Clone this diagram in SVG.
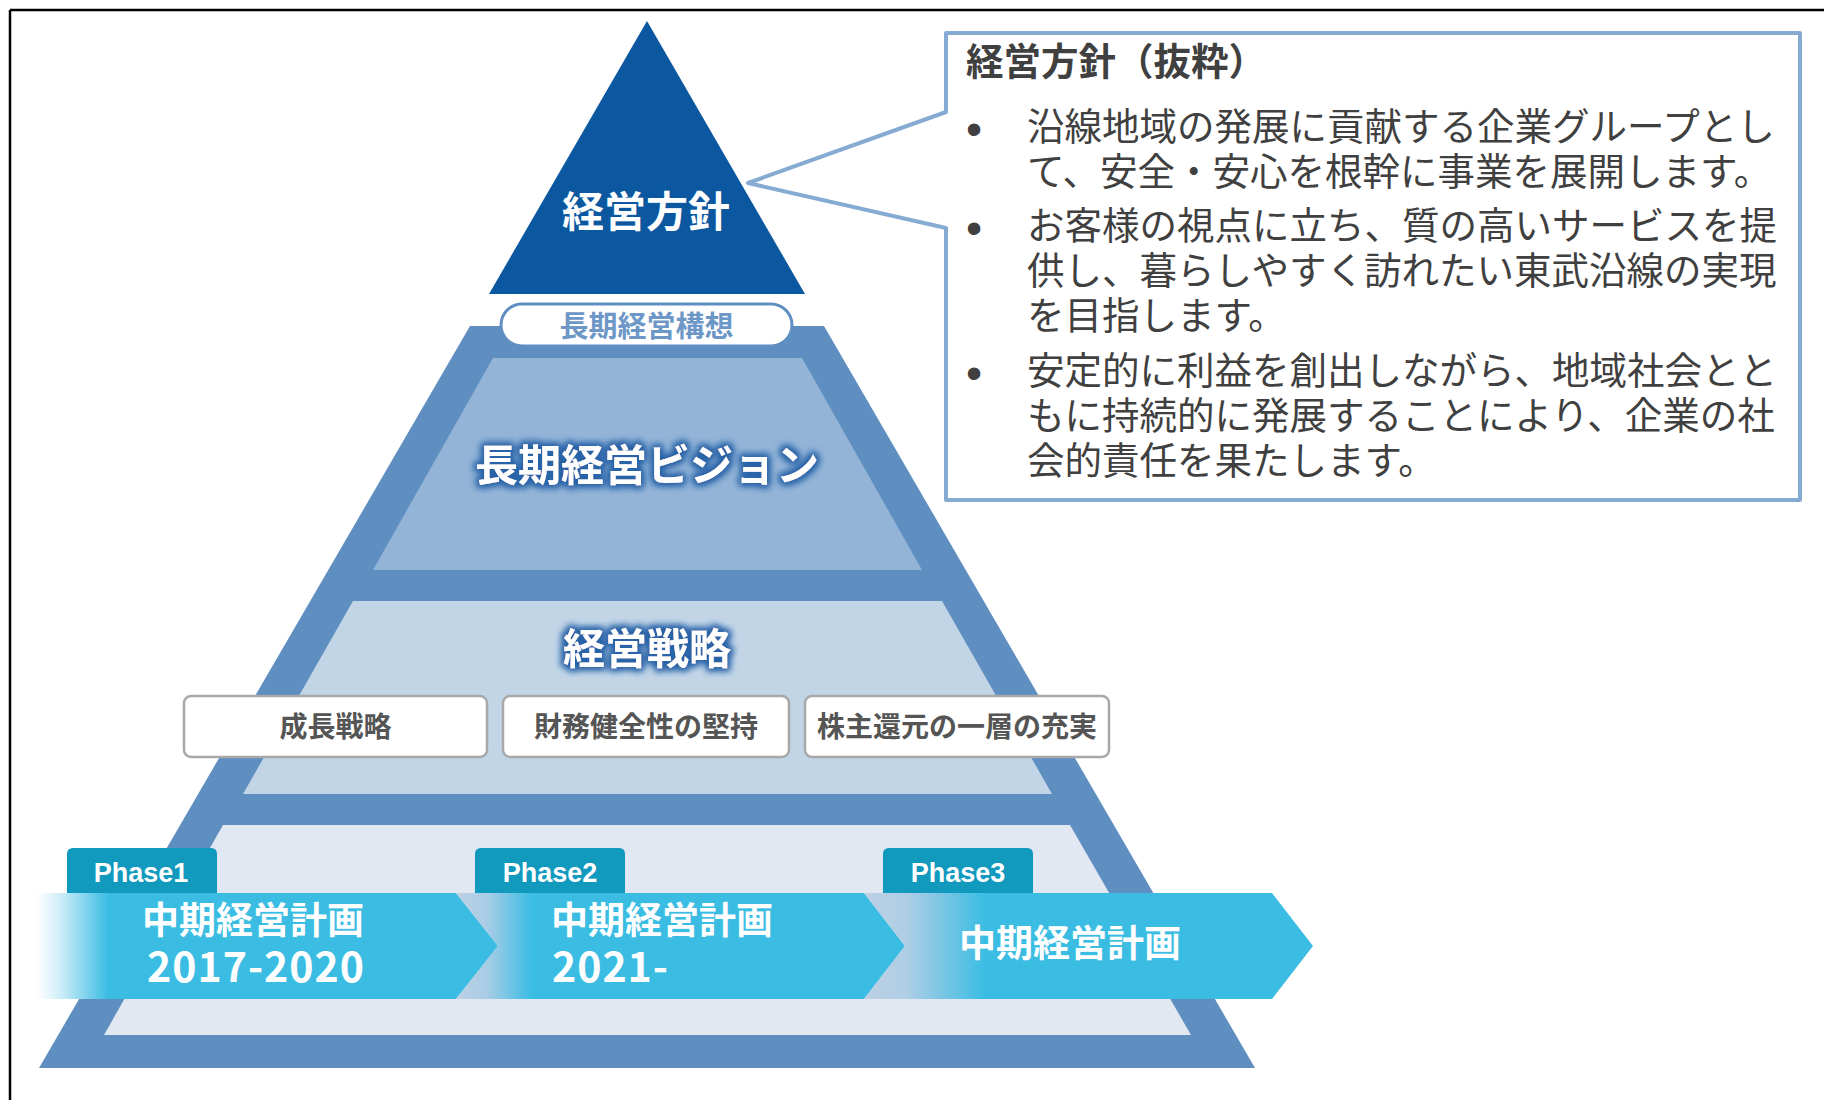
<svg xmlns="http://www.w3.org/2000/svg" width="1824" height="1100" viewBox="0 0 1824 1100">
<defs>
<style>
.jp{font-family:"Noto Sans CJK JP","Noto Sans CJK SC",sans-serif;}
.b{font-weight:700;}
.wt{fill:#ffffff;}
.body{font-family:"Noto Sans CJK JP",sans-serif;font-size:37.5px;fill:#404040;}
.bul{font-family:"Liberation Sans",Arial,sans-serif;font-size:46px;fill:#404040;}
.phase{font-family:"Liberation Sans",Arial,sans-serif;font-weight:700;font-size:27px;fill:#ffffff;text-anchor:middle;}
.tab{fill:#1199be;}
.sbox{fill:#ffffff;stroke:#a8a8a8;stroke-width:2.5;}
.stxt{font-family:"Noto Sans CJK JP",sans-serif;font-weight:700;font-size:28px;fill:#555555;text-anchor:middle;}
.arrtxt{font-family:"Noto Sans CJK JP",sans-serif;font-weight:700;font-size:37px;fill:#ffffff;}
.num{font-family:"Noto Sans CJK JP",sans-serif;font-weight:700;font-size:41px;fill:#ffffff;}
</style>
<linearGradient id="g1" gradientUnits="userSpaceOnUse" x1="36" y1="0" x2="108" y2="0">
<stop offset="0" stop-color="#ffffff"/>
<stop offset="0.3" stop-color="#d6f0f9"/>
<stop offset="0.65" stop-color="#8ad6ef"/>
<stop offset="1" stop-color="#3bbde3"/>
</linearGradient>
<linearGradient id="g2" gradientUnits="userSpaceOnUse" x1="456" y1="0" x2="532" y2="0">
<stop offset="0" stop-color="#bcd0e4"/>
<stop offset="0.4" stop-color="#aacde6"/>
<stop offset="1" stop-color="#3bbde3"/>
</linearGradient>
<linearGradient id="g3" gradientUnits="userSpaceOnUse" x1="864" y1="0" x2="985" y2="0">
<stop offset="0" stop-color="#bcd0e4"/>
<stop offset="0.35" stop-color="#afcee5"/>
<stop offset="1" stop-color="#3bbde3"/>
</linearGradient>
<filter id="glow" x="-20%" y="-50%" width="140%" height="200%">
<feMorphology in="SourceAlpha" operator="dilate" radius="2" result="d"/>
<feGaussianBlur in="d" stdDeviation="3.5" result="bl"/>
<feFlood flood-color="#2963a8" flood-opacity="1"/>
<feComposite in2="bl" operator="in" result="g"/>
<feMerge><feMergeNode in="g"/><feMergeNode in="g"/><feMergeNode in="SourceGraphic"/></feMerge>
</filter>
</defs>
<rect x="0" y="0" width="1824" height="1100" fill="#ffffff"/>
<g id="frame" stroke="#000000" stroke-width="2.5" fill="none">
<line x1="10" y1="10" x2="1824" y2="10"/>
<line x1="10" y1="10" x2="10" y2="1100"/>
</g>

<g id="pyramid">
<polygon points="470,326 824,326 1255,1068 39,1068" fill="#5f8fc1"/>
</g>

<g id="vision">
<polygon points="493,358 802,358 922,570 373,570" fill="#93b4d7"/>
<text class="jp b wt" x="647" y="481" font-size="43" text-anchor="middle" filter="url(#glow)">長期経営ビジョン</text>
</g>

<g id="strategy">
<polygon points="353,601 942,601 1052,794 243,794" fill="#c2d5e7"/>
<text class="jp b wt" x="647" y="664" font-size="42" text-anchor="middle" filter="url(#glow)">経営戦略</text>
</g>

<g id="box-growth">
<rect class="sbox" x="184" y="696" width="303" height="61" rx="7"/>
<text class="stxt" x="335.5" y="737">成長戦略</text>
</g>
<g id="box-finance">
<rect class="sbox" x="503" y="696" width="286" height="61" rx="7"/>
<text class="stxt" x="646" y="737">財務健全性の堅持</text>
</g>
<g id="box-return">
<rect class="sbox" x="805" y="696" width="304" height="61" rx="7"/>
<text class="stxt" x="957" y="737">株主還元の一層の充実</text>
</g>

<g id="midterm-base">
<polygon points="223,825 1070,825 1191,1035 104,1035" fill="#e1e8f2"/>
</g>

<g id="concept">
<rect x="501" y="304" width="291" height="42" rx="21" fill="#ffffff" stroke="#5f8fc1" stroke-width="3"/>
<text class="jp b" x="646.5" y="337" font-size="29" text-anchor="middle" fill="#6d97c7">長期経営構想</text>
</g>

<g id="policy">
<polygon points="647,21 805,294 489,294" fill="#0b57a0"/>
<text class="jp b wt" x="646" y="227" font-size="42" text-anchor="middle">経営方針</text>
</g>

<g id="phase1">
<path class="tab" d="M67,893 V854 Q67,848 73,848 H211 Q217,848 217,854 V893 Z"/>
<text class="phase" x="141" y="882">Phase1</text>
<path d="M36,893 H456 L498,946 L456,999 H36 Z" fill="url(#g1)"/>
<text class="arrtxt" x="142" y="934">中期経営計画</text>
<text class="num" x="147" y="982" textLength="217" lengthAdjust="spacing">2017-2020</text>
</g>

<g id="phase2">
<path class="tab" d="M475,893 V854 Q475,848 481,848 H619 Q625,848 625,854 V893 Z"/>
<text class="phase" x="550" y="882">Phase2</text>
<path d="M456,893 H864 L905,946 L864,999 H456 L498,946 Z" fill="url(#g2)"/>
<text class="arrtxt" x="551" y="934">中期経営計画</text>
<text class="num" x="552" y="982" textLength="116" lengthAdjust="spacing">2021-</text>
</g>

<g id="phase3">
<path class="tab" d="M883,893 V854 Q883,848 889,848 H1027 Q1033,848 1033,854 V893 Z"/>
<text class="phase" x="958" y="882">Phase3</text>
<path d="M864,893 H1272 L1313,946 L1272,999 H864 L905,946 Z" fill="url(#g3)"/>
<text class="arrtxt" x="959" y="957">中期経営計画</text>
</g>

<g id="policy-excerpt">
<path d="M946,112 L748,183 L946,228 V500 H1800 V33 H946 Z" fill="#ffffff" stroke="#85abd3" stroke-width="4" stroke-linejoin="round"/>
<text class="jp b" x="966" y="75" font-size="37.5" fill="#404040">経営方針（抜粋）</text>
<text class="bul" x="966" y="145">•</text>
<text class="body" x="1027" y="140">沿線地域の発展に貢献する企業グループとし</text>
<text class="body" x="1027" y="185">て、安全・安心を根幹に事業を展開します。</text>
<text class="bul" x="966" y="244">•</text>
<text class="body" x="1027" y="239">お客様の視点に立ち、質の高いサービスを提</text>
<text class="body" x="1027" y="284">供し、暮らしやすく訪れたい東武沿線の実現</text>
<text class="body" x="1027" y="329">を目指します。</text>
<text class="bul" x="966" y="389">•</text>
<text class="body" x="1027" y="384">安定的に利益を創出しながら、地域社会とと</text>
<text class="body" x="1027" y="429">もに持続的に発展することにより、企業の社</text>
<text class="body" x="1027" y="474">会的責任を果たします。</text>
</g>

<g id="connectors"></g>
</svg>
